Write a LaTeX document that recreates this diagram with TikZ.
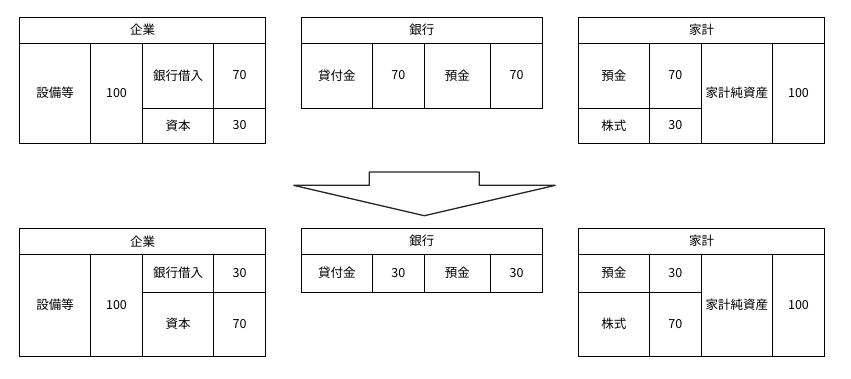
\documentclass[tikz,border=0pt]{standalone}
\usepackage{fontspec}
\setmainfont{Noto Sans CJK JP}
\begin{document}
\begin{tikzpicture}[x=1pt,y=-1pt,
  cellst/.style={draw=black, line width=0.9pt, fill=white, inner sep=0pt, outer sep=0pt,
    font=\fontsize{12.5}{14}\selectfont, anchor=center},
  arrowst/.style={draw=black!85, line width=1.3pt, fill=white, line join=bevel}]
\newcommand{\cellbox}[6]{%
  \node[cellst, minimum width={(#4-#2)*1pt}, minimum height={(#5-#3)*1pt}]
    (#1) at ({(#2+#4)/2},{(#3+#5)/2}) {#6};}
\useasboundingbox[fill=white] (0,0) rectangle (851,378);
% ---------- top row ----------
% company
\cellbox{c1h}{19.5}{17}{265.5}{43}{企業}
\cellbox{c1a}{19.5}{43}{90.5}{143}{設備等}
\cellbox{c1b}{90.5}{43}{142.5}{143}{100}
\cellbox{c1c}{142.5}{43}{213.5}{108}{銀行借入}
\cellbox{c1d}{213.5}{43}{265.5}{108}{70}
\cellbox{c1e}{142.5}{108}{213.5}{143}{資本}
\cellbox{c1f}{213.5}{108}{265.5}{143}{30}
% bank
\cellbox{b1h}{301.3}{17}{542.5}{43}{銀行}
\cellbox{b1a}{301.3}{43}{372.3}{108}{貸付金}
\cellbox{b1b}{372.3}{43}{424.3}{108}{70}
\cellbox{b1c}{424.3}{43}{490.5}{108}{預金}
\cellbox{b1d}{490.5}{43}{542.5}{108}{70}
% household
\cellbox{h1h}{578.3}{17}{824.7}{43}{家計}
\cellbox{h1a}{578.3}{43}{649.3}{108}{預金}
\cellbox{h1b}{649.3}{43}{701.3}{108}{70}
\cellbox{h1c}{578.3}{108}{649.3}{143}{株式}
\cellbox{h1d}{649.3}{108}{701.3}{143}{30}
\cellbox{h1e}{701.3}{43}{772.3}{143}{家計純資産}
\cellbox{h1f}{772.3}{43}{824.7}{143}{100}
% ---------- arrow ----------
\draw[arrowst] (293.5,185.3) -- (369.3,185.3) -- (369.3,172) -- (479.3,172)
  -- (479.3,185.3) -- (555.5,185.3) -- (424.3,215.7) -- cycle;
% ---------- bottom row ----------
% company
\cellbox{c2h}{19.5}{228.5}{265.5}{254}{企業}
\cellbox{c2a}{19.5}{254}{90.5}{356}{設備等}
\cellbox{c2b}{90.5}{254}{142.5}{356}{100}
\cellbox{c2c}{142.5}{254}{213.5}{292.3}{銀行借入}
\cellbox{c2d}{213.5}{254}{265.5}{292.3}{30}
\cellbox{c2e}{142.5}{292.3}{213.5}{356}{資本}
\cellbox{c2f}{213.5}{292.3}{265.5}{356}{70}
% bank
\cellbox{b2h}{301.3}{228.5}{542.5}{254}{銀行}
\cellbox{b2a}{301.3}{254}{372.3}{292.3}{貸付金}
\cellbox{b2b}{372.3}{254}{424.3}{292.3}{30}
\cellbox{b2c}{424.3}{254}{490.5}{292.3}{預金}
\cellbox{b2d}{490.5}{254}{542.5}{292.3}{30}
% household
\cellbox{h2h}{578.3}{228.5}{824.7}{254}{家計}
\cellbox{h2a}{578.3}{254}{649.3}{292.3}{預金}
\cellbox{h2b}{649.3}{254}{701.3}{292.3}{30}
\cellbox{h2c}{578.3}{292.3}{649.3}{356}{株式}
\cellbox{h2d}{649.3}{292.3}{701.3}{356}{70}
\cellbox{h2e}{701.3}{254}{772.3}{356}{家計純資産}
\cellbox{h2f}{772.3}{254}{824.7}{356}{100}
\end{tikzpicture}
\end{document}
